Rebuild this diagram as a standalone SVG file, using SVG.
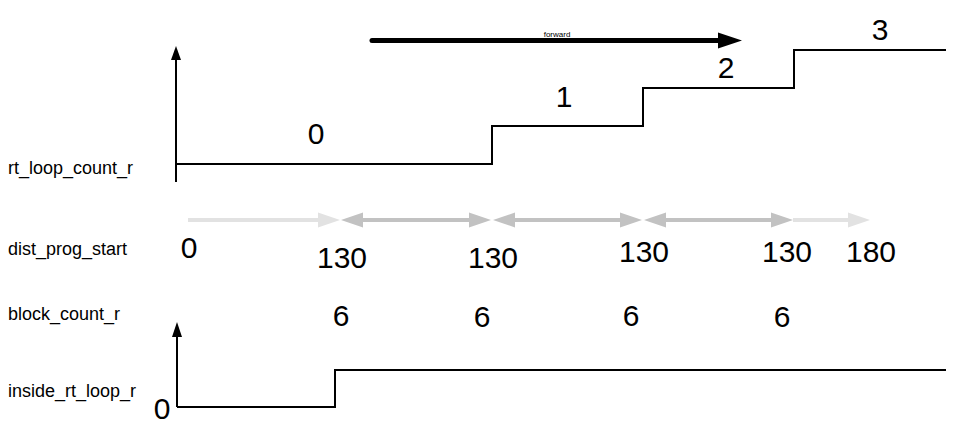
<svg xmlns="http://www.w3.org/2000/svg" width="960" height="442" viewBox="0 0 960 442">
<style>
.lbl{font-family:"Liberation Sans",Arial,sans-serif;font-size:18px;fill:#000}
.num{font-family:"Liberation Sans",Arial,sans-serif;font-size:30px;fill:#000;text-anchor:middle}
.wave{fill:none;stroke:#000;stroke-width:2}
.lt{stroke:#e2e2e2;stroke-width:4;fill:none}
.dk{stroke:#c2c2c2;stroke-width:4;fill:none}
.lth{fill:#e2e2e2}
.dkh{fill:#c2c2c2}
</style>
<rect width="960" height="442" fill="#fff"/>
<g id="labels">
<text class="lbl" x="8" y="174">rt_loop_count_r</text>
<text class="lbl" x="8" y="255">dist_prog_start</text>
<text class="lbl" x="8" y="320">block_count_r</text>
<text class="lbl" x="8" y="397">inside_rt_loop_r</text>
</g>
<g id="rt_loop_count">
<line class="wave" x1="176" y1="182" x2="176" y2="58"/>
<polygon points="176,46 171,60 181,60" fill="#000"/>
<polyline class="wave" points="176,164 492,164 492,126 643,126 643,88 794,88 794,50 946,50"/>
<text class="num" x="316" y="144">0</text>
<text class="num" x="564" y="107">1</text>
<text class="num" x="726" y="78">2</text>
<text class="num" x="880" y="40">3</text>
</g>
<g id="forward">
<line x1="372" y1="40.5" x2="720" y2="40.5" stroke="#000" stroke-width="5" stroke-linecap="round"/>
<polygon points="742,40.5 718,32.5 718,48.5" fill="#000"/>
<text x="557" y="37" font-family="Liberation Sans,Arial,sans-serif" font-size="8" text-anchor="middle">forward</text>
</g>
<g id="dist_prog_start">
<line class="lt" x1="188" y1="220" x2="319" y2="220"/>
<polygon class="lth" points="340,220 318,212.5 318,227.5"/>
<line class="dk" x1="361" y1="220" x2="471" y2="220"/>
<polygon class="dkh" points="341,220 363,212.5 363,227.5"/>
<polygon class="dkh" points="491,220 469,212.5 469,227.5"/>
<line class="dk" x1="514" y1="220" x2="622" y2="220"/>
<polygon class="dkh" points="493,220 515,212.5 515,227.5"/>
<polygon class="dkh" points="642,220 620,212.5 620,227.5"/>
<line class="dk" x1="665" y1="220" x2="772" y2="220"/>
<polygon class="dkh" points="644,220 666,212.5 666,227.5"/>
<polygon class="dkh" points="793,220 771,212.5 771,227.5"/>
<line class="lt" x1="793" y1="220" x2="849" y2="220"/>
<polygon class="lth" points="870,220 848,212.5 848,227.5"/>
<text class="num" x="189" y="258">0</text>
<text class="num" x="342" y="268">130</text>
<text class="num" x="493" y="268">130</text>
<text class="num" x="644" y="262">130</text>
<text class="num" x="787" y="262">130</text>
<text class="num" x="871" y="262">180</text>
</g>
<g id="block_count_r">
<text class="num" x="341" y="326">6</text>
<text class="num" x="482" y="327">6</text>
<text class="num" x="631" y="326">6</text>
<text class="num" x="782" y="327">6</text>
</g>
<g id="inside_rt_loop">
<line class="wave" x1="177" y1="407" x2="177" y2="334"/>
<polygon points="177,322 172,337 182,337" fill="#000"/>
<polyline class="wave" points="177,407 335,407 335,370 946,370"/>
<text class="num" x="162" y="419">0</text>
</g>
</svg>
